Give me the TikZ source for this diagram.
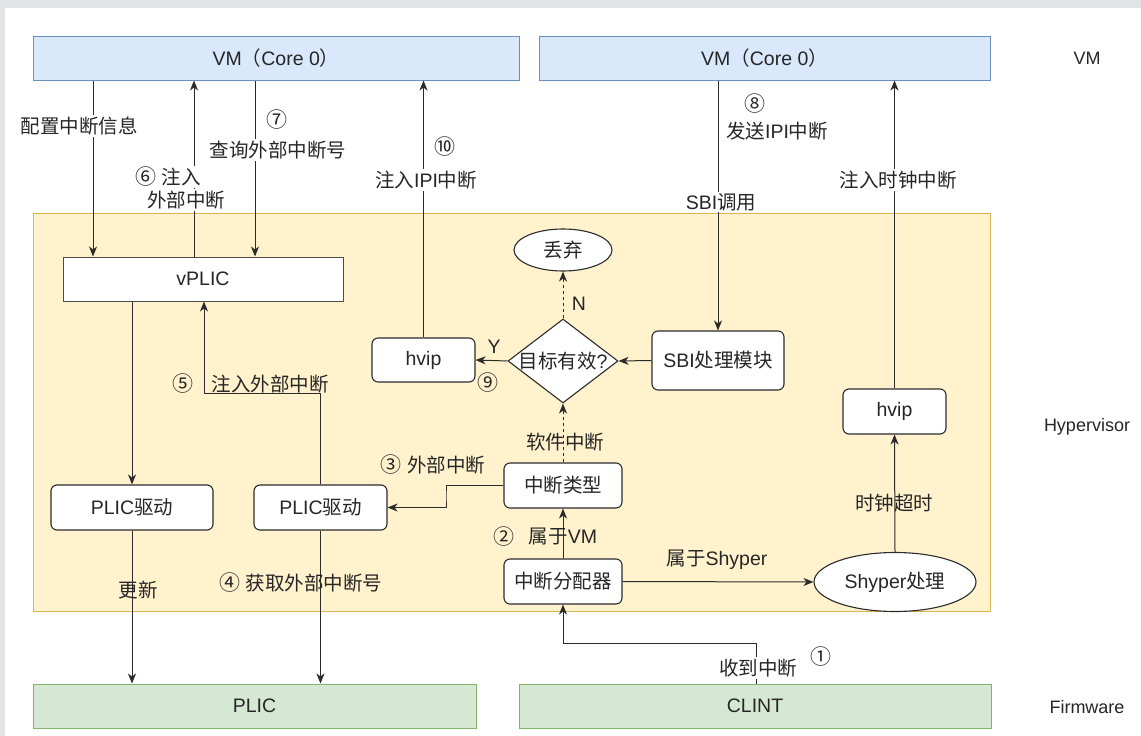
\documentclass[tikz,border=0pt]{standalone}
\usepackage{fontspec}
\setmainfont{Liberation Sans}
\newfontfamily\zhfont{Noto Sans CJK SC}
\newcommand{\z}[1]{{\zhfont #1}}
\newcommand{\cn}[1]{{\zhfont\fontsize{21}{22}\selectfont #1}}
\usetikzlibrary{shapes.geometric,arrows.meta}
\definecolor{vmfill}{HTML}{DAE8FC}
\definecolor{vmline}{HTML}{6C8EBF}
\definecolor{hvfill}{HTML}{FFF2CC}
\definecolor{hvline}{HTML}{D6B656}
\definecolor{fwfill}{HTML}{D5E8D4}
\definecolor{fwline}{HTML}{82B366}
\definecolor{edge}{HTML}{2B2B2B}
\definecolor{pagegray}{HTML}{E2E3E7}
\begin{document}
\begin{tikzpicture}[x=1pt,y=-1pt,
  every node/.style={font=\fontsize{19.5}{22}\selectfont, inner sep=0pt, text=black!85},
  layer/.style={draw=#1line, fill=#1fill, line width=1pt, minimum height=44pt},
  rbox/.style={draw=edge, fill=white, rounded corners=6pt, line width=1.1pt, minimum height=45pt},
  sbox/.style={draw=black!70, fill=white, line width=1pt, minimum height=44pt},
  oval/.style={ellipse, draw=edge, fill=white, line width=1.1pt},
  wire/.style={line width=1pt, draw=edge},
  arr/.style={wire, -{Stealth[length=10pt,width=8pt,inset=3pt]}},
  dasharr/.style={arr, dash pattern=on 3pt off 3pt},
  wtxt/.style={fill=white, inner sep=1.5pt},
  side/.style={font=\fontsize{18}{22}\selectfont}]

% page
\useasboundingbox (0,0) rectangle (1141,736);
\fill[pagegray] (0,0) rectangle (1141,736);
\fill[white] (5,8) rectangle (1141,736);

% layers
\node[layer=vm, minimum width=486pt] (vm1) at (276,58) {VM\z{（}Core 0\z{）}};
\node[layer=vm, minimum width=451pt] (vm2) at (764.5,58) {VM\z{（}Core 0\z{）}};
\node[draw=hvline, fill=hvfill, line width=1pt, minimum width=957pt, minimum height=398pt] (hyp) at (511.5,412) {};
\node[layer=fw, minimum width=443pt] (plic) at (254.5,706) {PLIC};
\node[layer=fw, minimum width=472pt] (clint) at (755,706) {CLINT};

\node[side] (lvm) at (1087,58) {VM};
\node[side] (lhyp) at (1087,427) {Hypervisor};
\node[side] (lfw) at (1087,707) {Firmware};

% hypervisor blocks
\node[sbox, minimum width=280pt] (vplic) at (203,279) {vPLIC};
\node[rbox, minimum width=103pt, minimum height=44pt] (hvipL) at (423.5,360) {hvip};
\node[diamond, draw=edge, fill=white, line width=1.1pt, minimum width=110pt, minimum height=84pt] (chk) at (563,361) {};
\node (chkt) at (chk) {\z{目标有效}?};
\node[oval, minimum width=98pt, minimum height=42pt] (drop) at (563,250) {\z{丢弃}};
\node[rbox, minimum width=132pt, minimum height=59pt] (sbi) at (718,360.5) {SBI\z{处理模块}};
\node[rbox, minimum width=103pt] (hvipR) at (894.5,411.5) {hvip};
\node[rbox, minimum width=118pt] (itype) at (563,485.5) {\z{中断类型}};
\node[rbox, minimum width=118pt] (disp) at (563,581.5) {\z{中断分配器}};
\node[oval, minimum width=162pt, minimum height=59pt] (shy) at (895,582) {Shyper\z{处理}};
\node[rbox, minimum width=162pt] (drvL) at (132,507.5) {PLIC\z{驱动}};
\node[rbox, minimum width=133pt] (drvR) at (320.5,507.5) {PLIC\z{驱动}};

% column positions of the VM links
\coordinate (xa) at (93,0);
\coordinate (xb) at (194,0);
\coordinate (xc) at (255,0);
\coordinate (xs) at (718,0);
\coordinate (c5) at (204,393);
\coordinate (c3) at (446,496);
\coordinate (c1) at (756,643);

% VM <-> vPLIC
\draw[arr] (vm1.south -| xa) -- (vplic.north -| xa);
\node[wtxt] (t1) at (79,126) {\z{配置中断信息}};
\draw[arr] (vplic.north -| xb) -- (vm1.south -| xb);
\node[wtxt] (t6a) at (168,177) {\cn{⑥} \z{注入}};
\node[wtxt] (t6b) at (186,200) {\z{外部中断}};
\draw[arr] (vm1.south -| xc) -- (vplic.north -| xc);
\node[wtxt] (t7a) at (277,120) {\cn{⑦}};
\node[wtxt] (t7b) at (278,150) {\z{查询外部中断号}};

% IPI injection
\draw[arr] (hvipL.north) -- (vm1.south -| hvipL.north);
\node[wtxt] (t10a) at (445,147) {\cn{⑩}};
\node[wtxt] (t10b) at (426,180) {\z{注入}IPI\z{中断}};

% SBI call
\draw[arr] (vm2.south -| xs) -- (sbi.north -| xs);
\node (t8a) at (755,104) {\cn{⑧}};
\node (t8b) at (777,131) {\z{发送}IPI\z{中断}};
\node[wtxt] (tsbi) at (721,202) {SBI\z{调用}};

% timer path
\draw[arr] (hvipR.north) -- (vm2.south -| hvipR.north);
\node[wtxt] (ttim) at (898,180) {\z{注入时钟中断}};
\draw[arr] (shy.north) -- (hvipR.south);
\node (tto) at (894,503) {\z{时钟超时}};

% vPLIC <-> PLIC drivers
\draw[arr] (vplic.south -| drvL.north) -- (drvL.north);
\draw[arr] (drvL.south) -- (plic.north -| drvL.south);
\node (tupd) at (138,590) {\z{更新}};
\draw[arr] (drvR.north) -- (drvR.north |- c5) -- (c5) -- (vplic.south -| c5);
\node (t5a) at (183,384) {\cn{⑤}};
\node (t5b) at (270,384) {\z{注入外部中断}};
\draw[arr] (drvR.south) -- (plic.north -| drvR.south);
\node (t4) at (301,583) {\cn{④} \z{获取外部中断号}};

% interrupt type dispatch
\draw[arr] (itype.west) -| (c3) |- (drvR.east);
\node (t3) at (433,465) {\cn{③} \z{外部中断}};
\draw[dasharr] (itype.north) -- (chk.south);
\node (tsw) at (565,442) {\z{软件中断}};
\draw[dasharr] (chk.north) -- (drop.south);
\node (tn) at (579,304) {N};
\draw[arr] (chk.west) -- (hvipL.east);
\node (ty) at (494,347) {Y};
\node (t9) at (488,383) {\cn{⑨}};
\draw[arr] (sbi.west) -- (chk.east);

% dispatcher
\draw[arr] (disp.north) -- (itype.south);
\node (t2a) at (504,537) {\cn{②}};
\node (t2b) at (563,537) {\z{属于}VM};
\draw[arr] (disp.east) -- (shy.west);
\node (tsh) at (717,560) {\z{属于}Shyper};
\draw[arr] (clint.north -| c1) -- (c1) -| (disp.south);
\node[wtxt] (trx) at (758,668) {\z{收到中断}};
\node (t1n) at (821,657) {\cn{①}};
\end{tikzpicture}
\end{document}
